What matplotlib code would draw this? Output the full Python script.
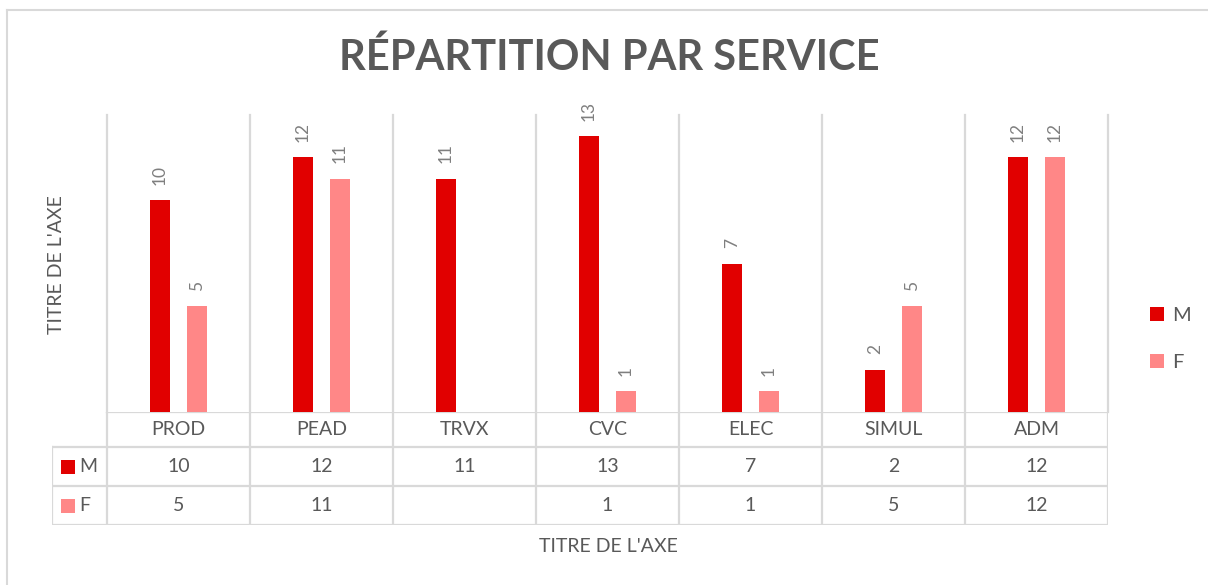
import numpy as np
import matplotlib
matplotlib.use("Agg")
import matplotlib.pyplot as plt
from matplotlib.lines import Line2D
from matplotlib.patches import Rectangle

plt.rcParams["font.family"] = ["Lato", "DejaVu Sans"]

# data
services = ["PROD", "PEAD", "TRVX", "CVC", "ELEC", "SIMUL", "ADM"]
m_values = [10, 12, 11, 13, 7, 2, 12]
f_values = [5, 11, np.nan, 1, 1, 5, 12]
series_names = ["M", "F"]

C_M = "#e10000"
C_F = "#ff8787"
GRID = "#d9d9d9"
TXT = "#595959"
LBL = "#7f7f7f"

W, H = 1208, 585
fig = plt.figure(figsize=(W / 100, H / 100), dpi=100)


def fx(px):
    return px / W


def fy(py):
    return 1 - py / H


# outer chart border
fig.add_artist(Line2D([fx(7), fx(7)], [fy(10), 0], color=GRID, lw=1.5))
fig.add_artist(Line2D([fx(7), 1], [fy(10), fy(10)], color=GRID, lw=1.5))

# plot area
x0, x1, ytop, ybase, ytab = 107, 1108, 115, 412, 525
ax = fig.add_axes([fx(x0), fy(ybase), fx(x1 - x0), (ybase - ytop) / H])
x = np.arange(len(services))
bw = 0.14
off = 0.13
bars_m = ax.bar(x - off, m_values, width=bw, color=C_M, label="M")
bars_f = ax.bar(x + off, f_values, width=bw, color=C_F, label="F")
ax.set_xlim(-0.5, len(services) - 0.5)
ax.set_ylim(0, 14)
ax.axis("off")

for bars, vals in ((bars_m, m_values), (bars_f, f_values)):
    for b, v in zip(bars, vals):
        if np.isnan(v):
            continue
        ax.annotate(f"{int(v)}", (b.get_x() + b.get_width() / 2, v),
                    xytext=(0, 11), textcoords="offset points",
                    rotation=90, ha="center", va="bottom",
                    fontsize=12.5, color=LBL)

# data table under the bars
left_col = 55
ppu = (x1 - x0) / len(services)
tab = fig.add_axes([fx(x0 - left_col), fy(ytab), fx(x1 - x0 + left_col), (ytab - ybase) / H])
tab.set_xlim(-0.5 - left_col / ppu, len(services) - 0.5)
tab.set_ylim(ytab - ybase, 0)
tab.axis("off")
rows = [0, 35, 74, 113]
xl = -0.5 - left_col / ppu
kw = dict(color=GRID, lw=1.6, solid_capstyle="projecting")
tab.plot([-0.5, len(services) - 0.5], [rows[0], rows[0]], **kw)
for r in rows[1:]:
    tab.plot([xl, len(services) - 0.5], [r, r], **kw)
tab.plot([xl, xl], [rows[1], rows[3]], **kw)

# category separators run through plot and table
for b in np.arange(-0.5, len(services)):
    ax.plot([b, b], [0, 14], clip_on=False, **kw)
    tab.plot([b, b], [0, rows[3]], **kw)

for i, s in enumerate(services):
    tab.text(i, (rows[0] + rows[1]) / 2, s, ha="center", va="center", fontsize=14, color=TXT)
    for r, vals in ((1, m_values), (2, f_values)):
        v = vals[i]
        if not np.isnan(v):
            tab.text(i, (rows[r] + rows[r + 1]) / 2, f"{int(v)}", ha="center",
                     va="center", fontsize=14, color=TXT)

for r, name, col in ((1, "M", C_M), (2, "F", C_F)):
    yc = (rows[r] + rows[r + 1]) / 2
    fig.add_artist(Rectangle((fx(61), fy(ybase + yc + 7)), fx(14), 14 / H,
                             color=col, lw=0))
    fig.text(fx(79), fy(ybase + yc), name, ha="left", va="center", fontsize=14, color=TXT)

# legend
fig.legend(handles=[bars_m, bars_f], labels=series_names, loc="center left",
           bbox_to_anchor=(fx(1132), fy(339)), frameon=False, fontsize=14.5,
           handlelength=0.7, handleheight=0.7, handletextpad=0.4,
           labelspacing=1.5, labelcolor=TXT)

# titles
fig.text(fx(609), fy(57), "RÉPARTITION PAR SERVICE", ha="center", va="center",
         fontsize=30, fontweight="bold", color=TXT)
fig.text(fx(57), fy(265), "TITRE DE L'AXE", ha="center", va="center",
         rotation=90, fontsize=14, color=TXT)
fig.text(fx(608), fy(547), "TITRE DE L'AXE", ha="center", va="center",
         fontsize=14, color=TXT)

fig.savefig("out.png", dpi=100)
